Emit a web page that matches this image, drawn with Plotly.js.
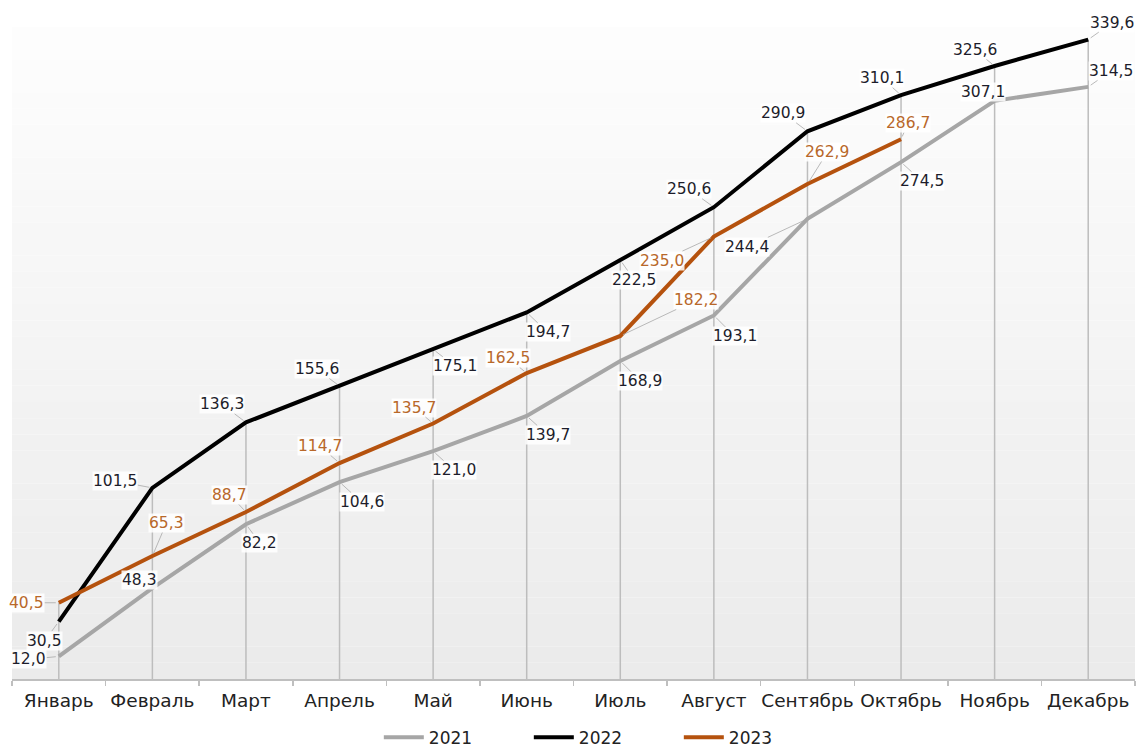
<!DOCTYPE html>
<html>
<head>
<meta charset="utf-8">
<script src="https://cdn.plot.ly/plotly-3.0.1.min.js"></script>
<style>html,body{margin:0;padding:0;background:#fff;}#chart{width:1137px;height:749px;}</style>
</head>
<body>
<div id="chart"></div>
<script>
// ---- data ----
const months = ['Январь','Февраль','Март','Апрель','Май','Июнь','Июль','Август','Сентябрь','Октябрь','Ноябрь','Декабрь'];
const s2021 = [12.0, 48.3, 82.2, 104.6, 121.0, 139.7, 168.9, 193.1, 244.4, 274.5, 307.1, 314.5];
const s2022 = [30.5, 101.5, 136.3, 155.6, 175.1, 194.7, 222.5, 250.6, 290.9, 310.1, 325.6, 339.6];
const s2023 = [40.5, 65.3, 88.7, 114.7, 135.7, 162.5, 182.2, 235.0, 262.9, 286.7];
const seriesNames = ['2021', '2022', '2023'];

// ---- label placement (pixel offsets from point) ----
const off2021 = [[-30,3],[-13,-8],[14,19],[22,20],[21,19],[21,19],[20,20],[21,21],[-60,28],[21,19],[-12,-9],[23,-16]];
const off2022 = [[-14,19],[-37,-7],[-24,-18],[-23,-17],[22,17],[21,20],[14,20],[-25,-18],[-24,-18],[-19,-17],[-20,-16],[24,-17]];
const off2023 = [[-32,0],[14,-33],[-16,-17],[-20,-17],[-19,-16],[-19,-15],[76,-36],[-52,24],[20,-32],[7,-16]];

// ---- styles ----
const lineColors = ['#a6a6a6', '#000000', '#b5520e'];
const labelColors = ['#1d1d2b', '#1d1d2b', '#b8682a'];
const FONT = 'DejaVu Sans, Arial, sans-serif';

const allSeries = [s2021, s2022, s2023];
const allOffsets = [off2021, off2022, off2023];

// drop lines from the highest value of each month to the axis
const dropX = [], dropY = [];
months.forEach((m, i) => {
  const vals = allSeries.map(s => s[i]).filter(v => v !== undefined);
  const mx = Math.max(...vals);
  dropX.push(m, m, null);
  dropY.push(0, mx, null);
});

const traces = [{
  x: dropX, y: dropY, mode: 'lines', type: 'scatter',
  line: {color: '#bdbdbd', width: 1.5}, showlegend: false, hoverinfo: 'skip'
}];
allSeries.forEach((s, k) => {
  traces.push({
    x: months.slice(0, s.length), y: s, name: seriesNames[k],
    mode: 'lines', type: 'scatter',
    line: {color: lineColors[k], width: 4}
  });
});

const fmt = v => v.toFixed(1).replace('.', ',');
const annotations = [];
allSeries.forEach((s, k) => {
  s.forEach((v, i) => {
    annotations.push({
      x: months[i], y: v, xref: 'x', yref: 'y',
      text: fmt(v), showarrow: true, arrowhead: 0, arrowwidth: 0.8,
      arrowcolor: '#a8a8a8', standoff: 3,
      ax: allOffsets[k][i][0], ay: allOffsets[k][i][1],
      font: {family: FONT, size: 15.5, color: labelColors[k]},
      bgcolor: 'rgba(255,255,255,0.85)', borderpad: 0
    });
  });
});

// vertical background gradient bands
const shapes = [];
const N = 40;
for (let j = 0; j < N; j++) {
  const t = j / (N - 1);
  const c = Math.round(253 - (253 - 235) * t);
  shapes.push({
    type: 'rect', xref: 'paper', yref: 'paper', layer: 'below',
    x0: 0, x1: 1, y0: 1 - (j + 1) / N, y1: 1 - j / N,
    fillcolor: `rgb(${c},${c},${c})`, line: {width: 0}
  });
}

const layout = {
  width: 1137, height: 749,
  margin: {l: 12, r: 2, t: 27, b: 70, autoexpand: false},
  paper_bgcolor: '#ffffff', plot_bgcolor: 'rgba(0,0,0,0)',
  font: {family: FONT, color: '#222'},
  xaxis: {
    type: 'category', categoryarray: months, range: [-0.5, 11.5],
    automargin: false, tickangle: 0, ticklabelstandoff: 4,
    showgrid: false, zeroline: false,
    showline: true, linecolor: '#bfbfbf', linewidth: 1.5,
    ticks: 'outside', tickson: 'boundaries', ticklen: 5, tickcolor: '#bfbfbf', tickwidth: 1.5,
    tickfont: {family: FONT, size: 18.5, color: '#222'}
  },
  yaxis: {
    range: [0, 346.3], visible: false, showgrid: false, zeroline: false, fixedrange: true, automargin: false
  },
  showlegend: true,
  legend: {
    orientation: 'h', x: 0.527, xanchor: 'center', y: -0.09, yanchor: 'middle',
    font: {family: FONT, size: 17, color: '#222'},
    traceorder: 'normal', itemwidth: 40, entrywidth: 95, entrywidthmode: 'pixels',
    bgcolor: 'rgba(0,0,0,0)', borderwidth: 0
  },
  shapes: shapes,
  annotations: annotations
};

Plotly.newPlot('chart', traces, layout, {displayModeBar: false, staticPlot: true});
</script>
</body>
</html>
